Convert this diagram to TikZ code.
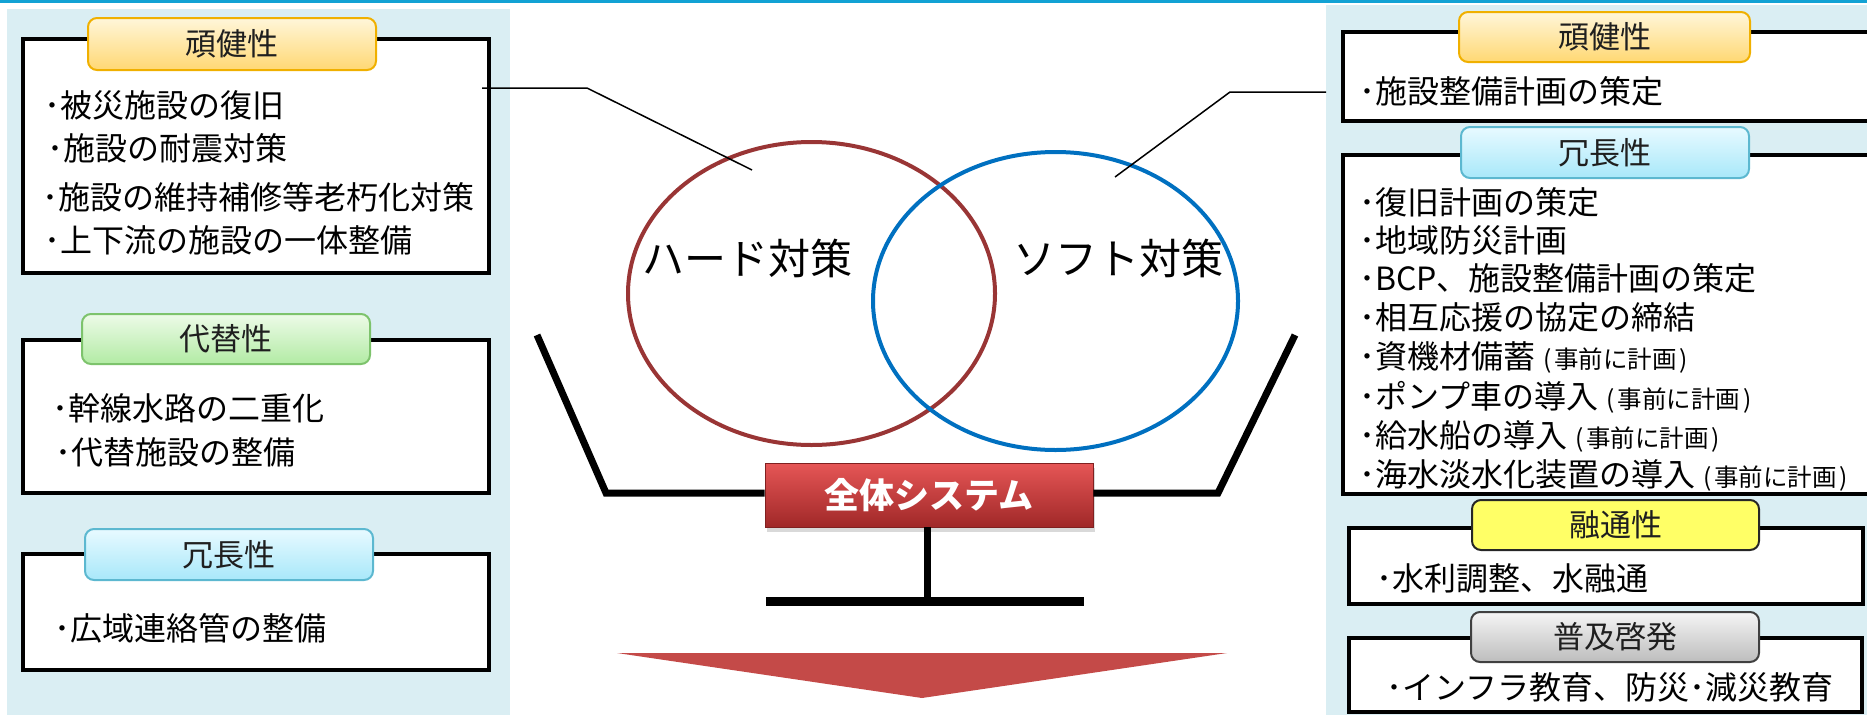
\documentclass[tikz,border=0pt]{standalone}
\usepackage{fontspec}
\setmainfont{Noto Sans CJK JP}
\usetikzlibrary{shapes.geometric,shadows}
\definecolor{panel}{HTML}{DAEEF3}
\definecolor{topline}{HTML}{12A2D4}
\definecolor{hardc}{HTML}{993535}
\definecolor{softc}{HTML}{0070C0}
\definecolor{arrowc}{HTML}{C44A48}
\definecolor{goldT}{HTML}{FFF6DA}
\definecolor{goldB}{HTML}{FFD873}
\definecolor{goldD}{HTML}{F0B000}
\definecolor{greenT}{HTML}{EDFBE8}
\definecolor{greenB}{HTML}{B2EBA4}
\definecolor{greenD}{HTML}{7DC36C}
\definecolor{cyanT}{HTML}{E8FAFF}
\definecolor{cyanB}{HTML}{A8E8FA}
\definecolor{cyanD}{HTML}{5CB8D0}
\definecolor{yel}{HTML}{FFFF66}
\definecolor{grayT}{HTML}{F5F5F5}
\definecolor{grayB}{HTML}{BDBDBD}
\definecolor{sysT}{HTML}{E65656}
\definecolor{sysM}{HTML}{D33636}
\definecolor{sysB}{HTML}{A02828}
\newcommand{\itf}{\fontsize{32}{38}\selectfont}
\newcommand{\ttf}{\fontsize{31}{37}\selectfont}
\newcommand{\smf}{\fontsize{24.5}{28}\selectfont}
\newcommand{\bigf}{\fontsize{42}{50}\selectfont}
\newcommand{\sysf}{\fontsize{35}{42}\selectfont\bfseries}
\tikzset{
  itembox/.style={draw=black, fill=white, line width=3.3pt, rectangle, inner sep=0},
  tabbox/.style={rounded corners=9pt, line width=2pt, inner sep=0, minimum width=288pt, minimum height=51pt,
     font=\ttf, text height=27.3pt, text depth=3.7pt, text=black!88},
  goldtab/.style={tabbox, draw=goldD, top color=goldT, bottom color=goldB},
  greentab/.style={tabbox, draw=greenD, top color=greenT, bottom color=greenB},
  cyantab/.style={tabbox, draw=cyanD, top color=cyanT, bottom color=cyanB},
  yeltab/.style={tabbox, draw=black!85, fill=yel},
  graytab/.style={tabbox, draw=black!75, top color=grayT, bottom color=grayB},
  itm/.style={anchor=west, inner sep=0, font=\itf, text height=28.2pt, text depth=3.8pt, text=black},
  conn/.style={draw=black, line width=1.5pt},
  bowl/.style={draw=black, line width=7pt},
  circlbl/.style={inner sep=0, font=\bigf, text=black}
}
\newcommand{\plan}{{\smf\hspace{8pt}(\hspace{3pt}事前に計画\hspace{3pt})}}
\begin{document}
\begin{tikzpicture}[x=1pt,y=-1pt]
\useasboundingbox (0,0) rectangle (1867,715);
\clip (0,0) rectangle (1867,715);
% panels
\fill[panel] (7,9) rectangle (510,715);
\fill[panel] (1326,5) rectangle (1867,715);
\draw[topline, line width=2.5pt] (0,1.25) -- (1867,1.25);

% left boxes
\node[itembox, minimum width=466pt, minimum height=234pt] (lb1) at (256,156) {};
\node[itembox, minimum width=466pt, minimum height=153pt] (lb2) at (256,416.5) {};
\node[itembox, minimum width=466pt, minimum height=116pt] (lb3) at (256,612) {};
% right boxes
\node[itembox, minimum width=537pt, minimum height=89pt] (rb1) at (1611.5,76.5) {};
\node[itembox, minimum width=537pt, minimum height=339pt] (rb2) at (1611.5,324.5) {};
\node[itembox, minimum width=514pt, minimum height=76pt] (rb3) at (1606,566) {};
\node[itembox, minimum width=513pt, minimum height=74pt] (rb4) at (1605.5,675) {};

% tabs
\node[goldtab, minimum height=52pt] (lt1) at (232,44) {頑健性};
\node[greentab, minimum height=50pt] (lt2) at (226,339) {代替性};
\node[cyantab] (lt3) at (229,554.5) {冗長性};
\node[goldtab, minimum width=291pt, minimum height=50pt] (rt1) at (1604.5,37) {頑健性};
\node[cyantab] (rt2) at (1605,152.5) {冗長性};
\node[yeltab, minimum width=287pt, minimum height=50pt] (rt3) at (1615.5,525) {融通性};
\node[graytab, minimum height=50pt] (rt4) at (1615,637) {普及啓発};

% left items
\node[itm] (l11) at (44,105) {･被災施設の復旧};
\node[itm] (l12) at (47,148) {･施設の耐震対策};
\node[itm] (l13) at (42,197) {･施設の維持補修等老朽化対策};
\node[itm] (l14) at (44,240) {･上下流の施設の一体整備};
\node[itm] (l21) at (52,408) {･幹線水路の二重化};
\node[itm] (l22) at (55,452) {･代替施設の整備};
\node[itm] (l31) at (54,628) {･広域連絡管の整備};
% right items
\node[itm] (r11) at (1359,91) {･施設整備計画の策定};
\node[itm] (r21) at (1359,202) {･復旧計画の策定};
\node[itm] (r22) at (1359,240) {･地域防災計画};
\node[itm] (r23) at (1359,278) {･BCP、施設整備計画の策定};
\node[itm] (r24) at (1359,317) {･相互応援の協定の締結};
\node[itm] (r25) at (1359,356) {･資機材備蓄\plan};
\node[itm] (r26) at (1359,396) {･ポンプ車の導入\plan};
\node[itm] (r27) at (1359,435) {･給水船の導入\plan};
\node[itm] (r28) at (1359,474) {･海水淡水化装置の導入\plan};
\node[itm] (r31) at (1376,578) {･水利調整、水融通};
\node[itm] (r41) at (1386,687) {･インフラ教育、防災･減災教育};

% ellipses
\node[ellipse, draw=hardc, line width=4pt, minimum width=367pt, minimum height=303pt, inner sep=0] (hard) at (811.5,293.5) {};
\node[ellipse, draw=softc, line width=4pt, minimum width=365pt, minimum height=298pt, inner sep=0] (soft) at (1055.5,301) {};
\node[circlbl] (hardl) at (747,258) {ハード対策};
\node[circlbl] (softl) at (1118,258) {ソフト対策};

% connectors
\coordinate (c1a) at (482,88);
\coordinate (c1b) at (587,88);
\coordinate (c1c) at (752,170);
\draw[conn] (c1a) -- (c1b) -- (c1c);
\coordinate (c2a) at (1326,92);
\coordinate (c2b) at (1230,92);
\coordinate (c2c) at (1115,177);
\draw[conn] (c2a) -- (c2b) -- (c2c);

% scale
\coordinate (blt) at (537,335);
\coordinate (blc) at (606,493);
\coordinate (brt) at (1295,335);
\coordinate (brc) at (1218,493);
\coordinate (barc) at (927,601);
\coordinate (barl) at (766,601);
\coordinate (barr) at (1084,601);
\node[inner sep=0, minimum width=328pt, minimum height=64pt, draw=sysB!80!black, line width=0.6pt,
      top color=sysT, middle color=sysM, bottom color=sysB,
      drop shadow={shadow xshift=2pt, shadow yshift=-5pt, opacity=0.3},
      font=\sysf, text=white] (sys) at (929,495) {全体システム};
\draw[bowl] (blt) -- (blc) -- (blc -| sys.west);
\draw[bowl] (brt) -- (brc) -- (brc -| sys.east);
\draw[line width=7pt] (sys.south -| barc) -- (barc);
\draw[line width=9pt] (barl) -- (barr);
\fill[arrowc] (617,653) -- (1227,653) -- (922,698) -- cycle;
\end{tikzpicture}
\end{document}
